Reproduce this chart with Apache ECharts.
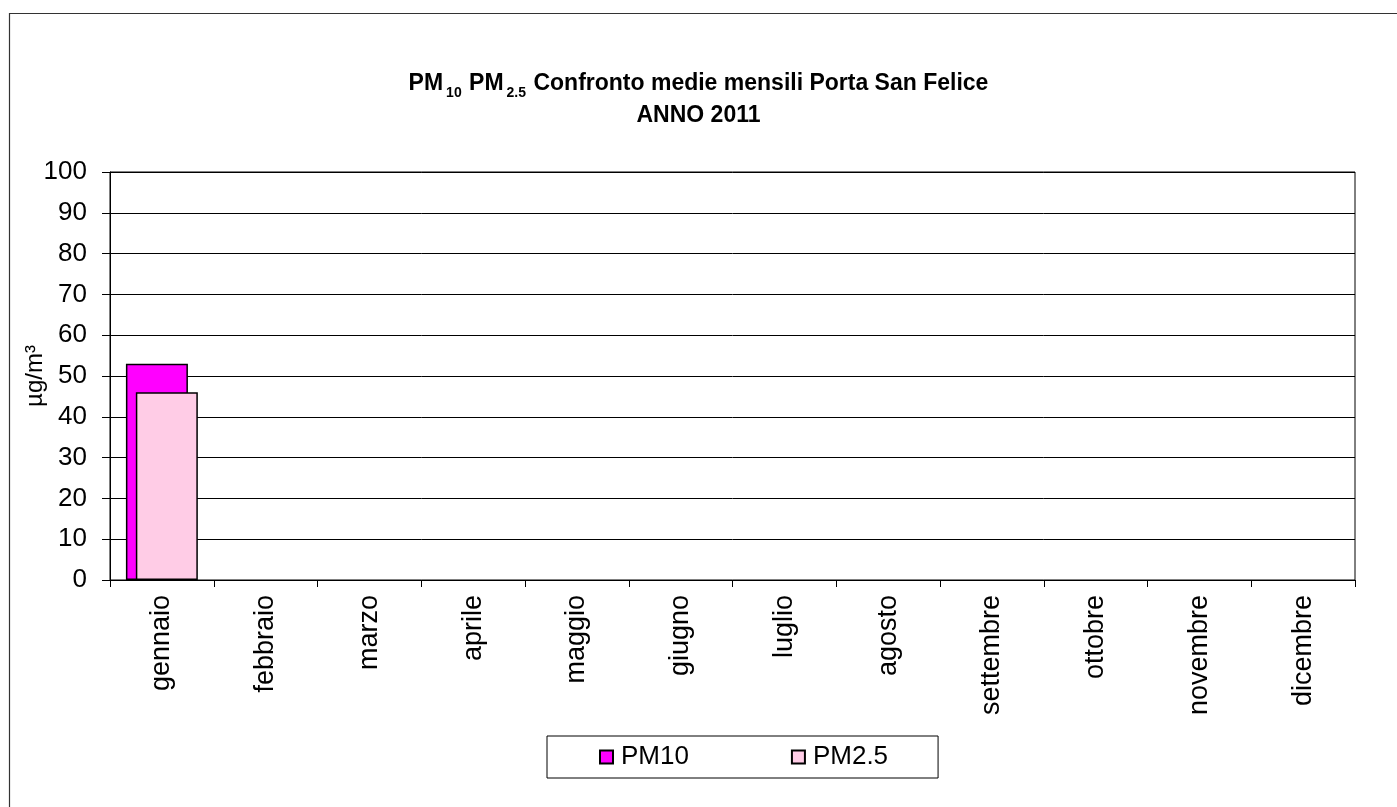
<!DOCTYPE html>
<html><head><meta charset="utf-8">
<script src="https://cdn.jsdelivr.net/npm/echarts@6/dist/echarts.min.js"></script>
<style>html,body{margin:0;padding:0;background:#fff}#c{width:1397px;height:807px}</style>
</head><body><div id="c"></div>
<script>
const months = ['gennaio','febbraio','marzo','aprile','maggio','giugno','luglio','agosto','settembre','ottobre','novembre','dicembre'];
const pm10 = [53, null, null, null, null, null, null, null, null, null, null, null];
const pm25 = [46, null, null, null, null, null, null, null, null, null, null, null];
const seriesNames = ['PM10', 'PM2.5'];
const yTicks = {min: 0, max: 100, interval: 10};

const FONT = '"Liberation Sans", Arial, sans-serif';
const chart = echarts.init(document.getElementById('c'), null, {renderer: 'canvas'});
chart.setOption({
  animation: false,
  backgroundColor: '#fff',
  textStyle: {fontFamily: FONT},
  graphic: [{
    type: 'rect', left: 7, top: 11, z: -1,
    shape: {width: 1400, height: 800},
    style: {fill: 'none', stroke: '#333', lineWidth: 1.2}
  }],
  title: {
    text: '{b|PM}{s|10}{b| PM}{s|2.5}{b| Confronto medie mensili Porta San Felice}\n{b|ANNO 2011}',
    left: 'center', top: 63,
    textStyle: {
      rich: {
        b: {fontFamily: FONT, fontWeight: 'bold', fontSize: 23, color: '#000', lineHeight: 32},
        s: {fontFamily: FONT, fontWeight: 'bold', fontSize: 14, color: '#000', lineHeight: 32, verticalAlign: 'bottom', padding: [9, 1, 0, 3]}
      }
    }
  },
  grid: {left: 110, right: 42, top: 172, bottom: 227, containLabel: false, outerBoundsMode: 'none',
         show: true, borderColor: '#000', borderWidth: 1, backgroundColor: '#fff'},
  legend: {
    data: seriesNames,
    left: 547, top: 736,
    orient: 'horizontal',
    borderColor: '#000', borderWidth: 1,
    padding: [8, 50, 8, 52],
    itemWidth: 13, itemHeight: 13, itemGap: 102,
    icon: 'rect',
    textStyle: {fontFamily: FONT, fontSize: 26, color: '#000', padding: [0, 0, 0, 3]}
  },
  xAxis: {
    type: 'category', data: months, boundaryGap: true,
    axisLine: {lineStyle: {color: '#000', width: 1}},
    axisTick: {show: true, interval: 0, length: 7, lineStyle: {color: '#000'}},
    axisLabel: {interval: 0, rotate: 90, margin: 15, fontFamily: FONT, fontSize: 27, color: '#000'},
    splitLine: {show: false}
  },
  yAxis: {
    type: 'value', min: yTicks.min, max: yTicks.max, interval: yTicks.interval,
    name: 'µg/m³', nameLocation: 'middle', nameRotate: 90, nameGap: 63, nameMoveOverlap: false,
    nameTextStyle: {fontFamily: FONT, fontSize: 24, color: '#000'},
    axisLine: {show: true, lineStyle: {color: '#000', width: 1}},
    axisTick: {show: true, length: 8, lineStyle: {color: '#000'}},
    axisLabel: {margin: 23, fontFamily: FONT, fontSize: 26, color: '#000'},
    splitLine: {show: true, lineStyle: {color: '#000', width: 1}}
  },
  series: [
    {name: seriesNames[0], type: 'bar', data: pm10, barWidth: 62, barGap: '-84%',
     itemStyle: {color: '#FF00FF', borderColor: '#000', borderWidth: 1.5}},
    {name: seriesNames[1], type: 'bar', data: pm25, barWidth: 62,
     itemStyle: {color: '#FFCCE6', borderColor: '#000', borderWidth: 1.5}}
  ]
});
</script></body></html>
